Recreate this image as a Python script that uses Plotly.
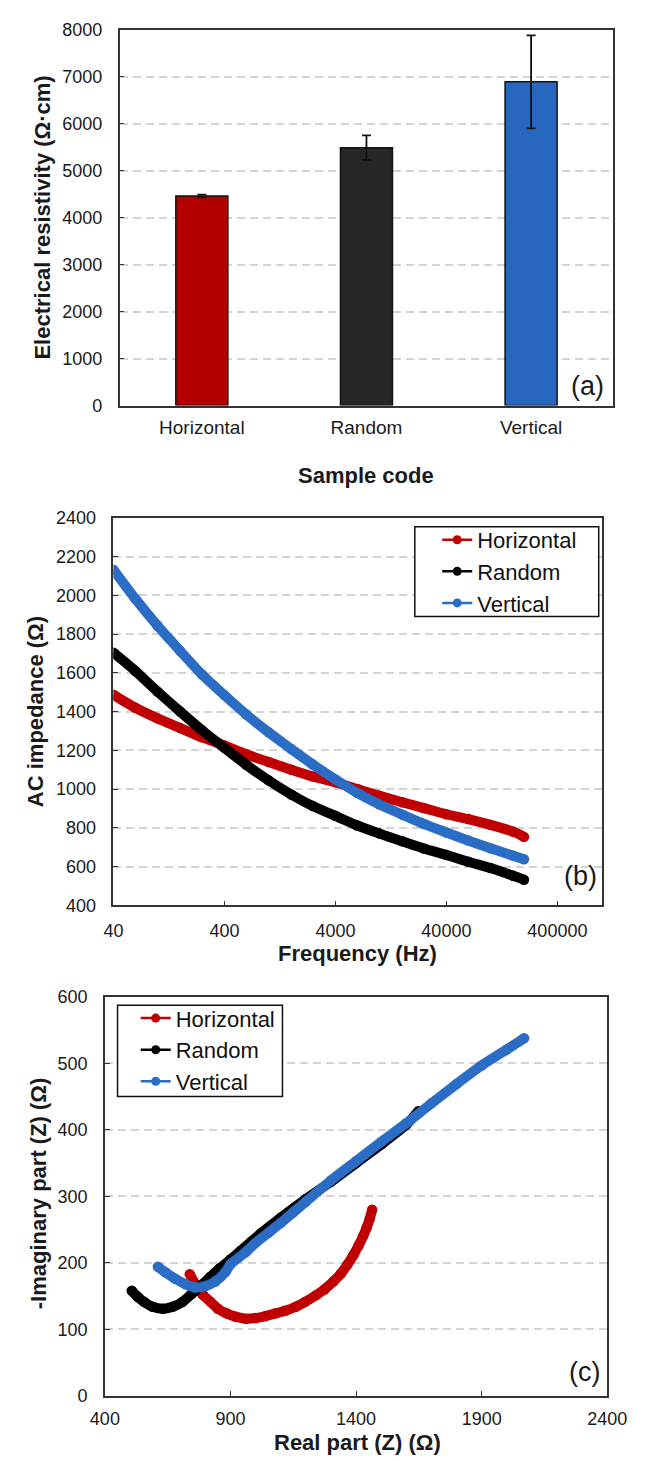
import plotly.graph_objects as go

# ---------------------------------------------------------------- data
SAMPLES = ["Horizontal", "Random", "Vertical"]
RESISTIVITY = [4460, 5490, 6890]          # Ω·cm
RESISTIVITY_ERR = [30, 262, 990]

FREQ_HZ = [40, 63, 100, 160, 250, 400, 630, 1000, 1600, 2500, 4000, 6300,
           10000, 16000, 25000, 40000, 63000, 100000, 160000, 200000]
Z_HORIZONTAL = [1487, 1420, 1365, 1315, 1268, 1225, 1180, 1140, 1100, 1065,
                1035, 1000, 965, 932, 902, 870, 845, 815, 780, 753]
Z_RANDOM = [1704, 1610, 1503, 1400, 1305, 1213, 1125, 1045, 972, 912,
            862, 812, 770, 730, 693, 660, 625, 592, 552, 532]
Z_VERTICAL = [2133, 1983, 1843, 1713, 1593, 1485, 1385, 1293, 1207, 1127,
              1050, 980, 920, 868, 820, 776, 734, 694, 656, 638]

RE_HORIZONTAL = [738, 760, 790, 821, 850, 884, 920, 962, 1000, 1040, 1080, 1118, 1160,
                 1196, 1240, 1274, 1310, 1340, 1365, 1390, 1410, 1428, 1442, 1454, 1464]
IM_HORIZONTAL = [183, 168, 152, 141, 131, 124, 119, 116, 117, 120, 124, 128, 134,
                 141, 151, 160, 172, 184, 197, 212, 226, 240, 253, 266, 280]
RE_RANDOM = [507, 530, 557, 590, 632, 670, 708, 745, 783, 820, 858, 900, 940, 980,
             1020, 1060, 1100, 1200, 1300, 1400, 1500, 1600, 1648]
IM_RANDOM = [158, 149, 141, 134, 131, 134, 141, 153, 166, 179, 192, 205, 218, 231,
             244, 256, 268, 296, 322, 350, 378, 408, 428]
RE_VERTICAL = [611, 640, 680, 720, 759, 800, 840, 880, 900, 960, 1000, 1050, 1100, 1150,
               1200, 1300, 1400, 1500, 1600, 1700, 1800, 1900, 2000, 2069]
IM_VERTICAL = [194, 186, 176, 168, 163, 165, 172, 186, 198, 216, 230, 245, 260, 276,
               292, 324, 353, 382, 410, 440, 469, 497, 521, 538]

BAR_COLORS = ["#b20000", "#262626", "#2867c0"]
LINE_COLORS = {"Horizontal": "#c00000", "Random": "#000000", "Vertical": "#2b6cc4"}

# ---------------------------------------------------------------- layout helpers
W, H = 649, 1461
FONT = "Liberation Sans, Arial, sans-serif"


def fx(px):
    return px / W


def fy(py):
    return 1 - py / H


AXIS = dict(showline=True, mirror=True, linecolor="#333333", linewidth=1.5,
            ticks="inside", ticklen=5, tickwidth=1.3, tickcolor="#333333",
            tickfont=dict(family=FONT, size=18, color="#1a1a1a"),
            zeroline=False, showgrid=False)
GRID = dict(showgrid=True, gridcolor="#d4d4d4", gridwidth=1.5, griddash="8px,5px")

fig = go.Figure()

# (a) resistivity bars
fig.add_trace(go.Bar(
    x=SAMPLES, y=RESISTIVITY, marker=dict(color=BAR_COLORS, line=dict(color="#111111", width=1.5)),
    error_y=dict(type="data", array=RESISTIVITY_ERR, color="#111111", thickness=1.8, width=4.5),
    xaxis="x", yaxis="y", showlegend=False))

# (b) impedance spectra and (c) Nyquist curves
series_b = [("Horizontal", Z_HORIZONTAL), ("Random", Z_RANDOM), ("Vertical", Z_VERTICAL)]
series_c = [("Horizontal", RE_HORIZONTAL, IM_HORIZONTAL),
            ("Random", RE_RANDOM, IM_RANDOM),
            ("Vertical", RE_VERTICAL, IM_VERTICAL)]

for name, z in series_b:
    c = LINE_COLORS[name]
    fig.add_trace(go.Scatter(x=FREQ_HZ, y=z, mode="lines+markers", name=name,
                             line=dict(color=c, width=10, shape="spline", smoothing=0.8),
                             marker=dict(color=c, size=10.5),
                             xaxis="x2", yaxis="y2", showlegend=False))
for name, re, im in series_c:
    c = LINE_COLORS[name]
    fig.add_trace(go.Scatter(x=re, y=im, mode="lines+markers", name=name,
                             line=dict(color=c, width=10, shape="spline", smoothing=0.6),
                             marker=dict(color=c, size=10.5),
                             xaxis="x3", yaxis="y3", showlegend=False))

# legend entries drawn with a thin line and a dot
for leg, xa, ya in (("legend", "x2", "y2"), ("legend2", "x3", "y3")):
    for name in SAMPLES:
        c = LINE_COLORS[name]
        fig.add_trace(go.Scatter(x=[None], y=[None], mode="lines+markers", name=name,
                                 line=dict(color=c, width=2.5), marker=dict(color=c, size=9),
                                 xaxis=xa, yaxis=ya, legend=leg, showlegend=True))

LEGEND = dict(xanchor="left", yanchor="top", bgcolor="rgba(0,0,0,0)", borderwidth=0,
              font=dict(family=FONT, size=22, color="#111111"),
              itemwidth=30, tracegroupgap=0, traceorder="normal")

# white framed boxes behind the legend entries
for x0, x1, y0, y1 in ((422.6, 617, 524, 615), (108.4, 282.7, 1009, 1101.7)):
    fig.add_shape(type="rect", xref="paper", yref="paper",
                  x0=fx(x0), x1=fx(x1), y0=fy(y1), y1=fy(y0),
                  fillcolor="white", line=dict(color="#111111", width=1.5), layer="above")

fig.update_layout(
    width=W, height=H, margin=dict(l=0, r=0, t=0, b=0),
    paper_bgcolor="white", plot_bgcolor="white",
    font=dict(family=FONT, color="#1a1a1a"),
    bargap=0.684,
    xaxis=dict(AXIS, domain=[fx(110.5), fx(632.5)], anchor="y", ticks="",
               range=[-0.5, 2.5], tickfont=dict(family=FONT, size=19, color="#1a1a1a"),
               ticklabelstandoff=4),
    yaxis=dict(AXIS, **GRID, domain=[fy(401), fy(20)], anchor="x", range=[0, 8000],
               dtick=1000, ticklabelstandoff=12),
    xaxis2=dict(AXIS, domain=[fx(104), fx(620)], anchor="y2", type="log",
                range=[1.60206, 6.0], tickvals=[40, 400, 4000, 40000, 400000],
                ticktext=["40", "400", "4000", "40000", "400000"], ticklabelstandoff=8),
    yaxis2=dict(AXIS, **GRID, domain=[fy(907.7), fy(515)], anchor="x2", range=[400, 2400],
                dtick=200, ticklabelstandoff=12),
    xaxis3=dict(AXIS, domain=[fx(95), fx(626)], anchor="y3", range=[400, 2400],
                tick0=400, dtick=500, ticklabelstandoff=6),
    yaxis3=dict(AXIS, **GRID, domain=[fy(1405), fy(1000.7)], anchor="x3", range=[0, 600],
                dtick=100, ticklabelstandoff=12),
    legend=dict(LEGEND, x=fx(446.3), y=fy(516)),
    legend2=dict(LEGEND, x=fx(127.6), y=fy(1001)),
)

# axis titles and panel letters
TITLE_FONT = dict(family=FONT, size=22, color="#1a1a1a")
LETTER_FONT = dict(family=FONT, size=27, color="#1a1a1a")
texts = [
    ("<b>Electrical resistivity (Ω·cm)</b>", 29, 210, -90, TITLE_FONT),
    ("<b>Sample code</b>", 371.5, 472, 0, TITLE_FONT),
    ("<b>AC impedance (Ω)</b>", 21, 711, -90, TITLE_FONT),
    ("<b>Frequency (Hz)</b>", 362, 957, 0, TITLE_FONT),
    ("<b>-Imaginary part (Z) (Ω)</b>", 25, 1200, -90, TITLE_FONT),
    ("<b>Real part (Z) (Ω)</b>", 362, 1452, 0, TITLE_FONT),
    ("(a)", 605, 381, 0, LETTER_FONT),
    ("(b)", 598, 878, 0, LETTER_FONT),
    ("(c)", 602, 1381, 0, LETTER_FONT),
]
for text, x, y, ang, font in texts:
    fig.add_annotation(text=text, x=fx(x), y=fy(y), xref="paper", yref="paper",
                       xanchor="center", yanchor="middle", showarrow=False,
                       textangle=ang, font=font)

fig.write_html("out.html")
